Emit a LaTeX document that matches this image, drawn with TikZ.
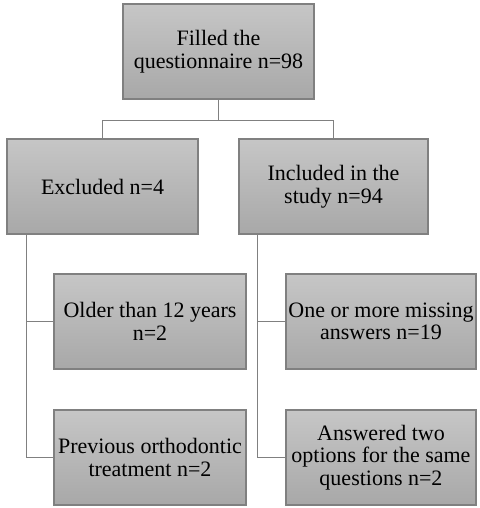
\documentclass[tikz,border=0pt]{standalone}
\usepackage{fontspec}
\setmainfont{Liberation Serif}
\newfontfamily\tnr{Liberation Serif}
\usetikzlibrary{calc}
\definecolor{boxtop}{HTML}{C6C6C6}
\definecolor{boxbot}{HTML}{A8A8A8}
\definecolor{edge}{HTML}{808080}
\tikzset{
  box/.style={draw=edge, line width=1.4pt, top color=boxtop, bottom color=boxbot,
    minimum height=95pt, inner sep=1pt, align=center, text=black,
    font=\tnr\fontsize{22}{22.5}\selectfont},
  link/.style={draw=edge, line width=1.4pt}
}
\begin{document}
\begin{tikzpicture}[x=1pt,y=-1pt]
\useasboundingbox (0,0) rectangle (479,508);
\node[box, minimum width=191pt] (top) at (218.5,51.5) {Filled the\\questionnaire n=98};
\node[box, minimum width=191pt] (excl) at (102.5,186.5) {Excluded n=4};
\node[box, minimum width=189pt] (incl) at (333.5,186.5) {Included in the\\study n=94};
\node[box, minimum width=192pt] (older) at (150,321.5) {Older than 12 years\\n=2};
\node[box, minimum width=192pt] (prev) at (150,457.5) {Previous orthodontic\\treatment n=2};
\node[box, minimum width=190pt] (miss) at (381,321.5) {One or more missing\\answers n=19};
\node[box, minimum width=190pt] (ans) at (381,457.5) {Answered two\\options for the same\\questions n=2};
\coordinate (split) at ($(top.south)+(0,21)$);
\draw[link] (top.south) -- (split);
\draw[link] (split) -| (excl.north);
\draw[link] (split) -| (incl.north);
\draw[link] ([xshift=20pt]excl.south west) |- (older.west);
\draw[link] ([xshift=20pt]excl.south west) |- (prev.west);
\draw[link] ([xshift=19pt]incl.south west) |- (miss.west);
\draw[link] ([xshift=19pt]incl.south west) |- (ans.west);
\end{tikzpicture}
\end{document}
